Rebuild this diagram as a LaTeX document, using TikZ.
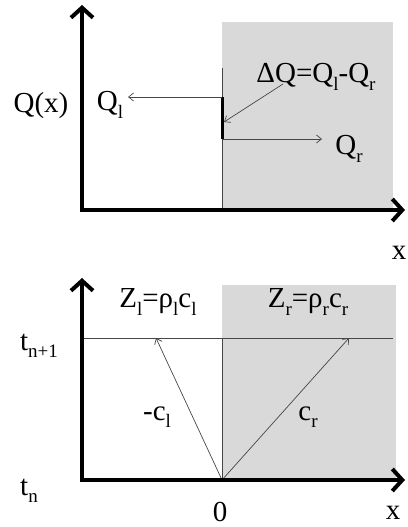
\documentclass[tikz,border=0pt]{standalone}
\usepackage{fontspec}
\setmainfont{Liberation Serif}
\usetikzlibrary{arrows.meta}
\definecolor{panegray}{RGB}{217,217,217}
\definecolor{wire}{RGB}{70,70,70}
\newcommand\lo[1]{\raisebox{-0.25em}{\fontsize{19}{19}\selectfont #1}}

\begin{document}
\begin{tikzpicture}[x=1pt,y=-1pt,
    axis/.style={line width=4pt,-{Straight Barb[length=10pt,width=22pt]}},
    thin/.style={wire,line width=0.7pt},
    ray/.style={thin,-{Straight Barb[length=5pt,width=8pt,line width=0.7pt]}},
    lbl/.style={font=\fontsize{29}{32}\selectfont,inner sep=0pt}]
    \useasboundingbox (0,0) rectangle (407,527);
    % upper panel
    \fill[panegray] (222,22) rectangle (393,210);
    \coordinate (o1) at (82,210);
    \coordinate (ytop1) at (82,5);
    \coordinate (xend1) at (405,210);
    \coordinate (wall1) at (222,68);
    \coordinate (wallb1) at (222,210);
    \coordinate (jtop) at (222,97);
    \coordinate (jbot) at (222,139);
    \coordinate (qlend) at (128,97);
    \coordinate (qrend) at (322,139);
    \coordinate (dqfrom) at (283,84);
    \coordinate (dqto) at (224,122);
    \draw[thin] (wall1)--(wallb1);
    \draw[line width=3pt] (jtop)--(jbot);
    \draw[ray] (jtop)--(qlend);
    \draw[ray] (jbot)--(qrend);
    \draw[ray] (dqfrom)--(dqto);
    \draw[axis] ([yshift=2pt]o1)--(ytop1);
    \draw[axis] ([xshift=-2pt]o1)--(xend1);
    \node[lbl] (qx) at (41,106){Q(x)};
    \node[lbl] (ql) at (110,105){Q\lo{l}};
    \node[lbl] (qr) at (349,149){Q\lo{r}};
    \node[lbl] (dq) at (316,77){ΔQ=Q\lo{l}-Q\lo{r}};
    \node[lbl] (xa) at (399,253){x};
    % lower panel
    \fill[panegray] (222,285) rectangle (396,480);
    \coordinate (o2) at (82,480);
    \coordinate (ytop2) at (82,278);
    \coordinate (xend2) at (405,480);
    \coordinate (lev0) at (82,338);
    \coordinate (lev1) at (393,338);
    \coordinate (wall2) at (222,338);
    \coordinate (src) at (222,480);
    \coordinate (lhit) at (156,338);
    \coordinate (rhit) at (349,338);
    \draw[thin] (lev0)--(lev1);
    \draw[thin] (wall2)--(src);
    \draw[ray] (src)--(lhit);
    \draw[ray] (src)--(rhit);
    \draw[axis] ([yshift=2pt]o2)--(ytop2);
    \draw[axis] ([xshift=-2pt]o2)--(xend2);
    \node[lbl] (zl) at (158,302){Z\lo{l}=ρ\lo{l}c\lo{l}};
    \node[lbl] (zr) at (308,302){Z\lo{r}=ρ\lo{r}c\lo{r}};
    \node[lbl] (tn1) at (39,346){t\lo{n+1}};
    \node[lbl] (tn) at (29,491){t\lo{n}};
    \node[lbl] (cl) at (157,417){-c\lo{l}};
    \node[lbl] (cr) at (308,417){c\lo{r}};
    \node[lbl] (zero) at (220,512){0};
    \node[lbl] (xb) at (393,513){x};
\end{tikzpicture}
\end{document}
